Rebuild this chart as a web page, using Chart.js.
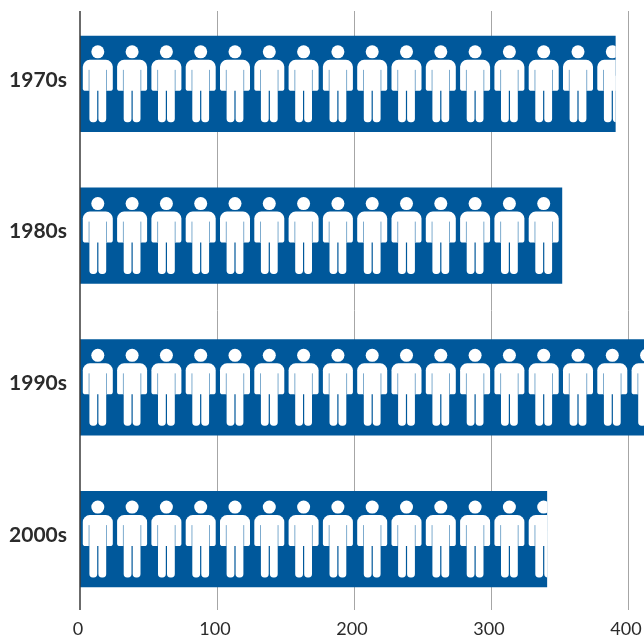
<!DOCTYPE html>
<html>
<head>
<meta charset="utf-8">
<style>
    html, body { margin: 0; padding: 0; background: #fff; }
    #wrap { width: 644px; height: 639px; }
</style>
<script src="https://cdn.jsdelivr.net/npm/chart.js@4"></script>
</head>
<body>
<div id="wrap"><canvas id="peopleChart" width="644" height="639"></canvas></div>
<script>
const decades = ['1970s', '1980s', '1990s', '2000s'];
const people = [391, 352, 420, 341];
const xTicks = [0, 100, 200, 300, 400];

const barColor = '#00589b';
const slitColor = '#6fa2c9';
const gridColor = '#a6a6a6';
const axisColor = '#3a3a3a';
const textColor = '#2b2b2b';

// one person, drawn relative to the top of the bar and the middle of the figure
function drawPerson(ctx, cx) {
    ctx.fillStyle = '#fff';
    ctx.beginPath();
    ctx.arc(cx, 16, 6.5, 0, Math.PI * 2);
    ctx.fill();

    ctx.beginPath();
    ctx.roundRect(cx - 15, 24, 30, 31, [7, 7, 2.7, 2.7]);
    ctx.fill();
    ctx.beginPath();
    ctx.roundRect(cx - 8.4, 40, 7.8, 46.4, [0, 0, 3.4, 3.4]);
    ctx.roundRect(cx + 0.6, 40, 7.8, 46.4, [0, 0, 3.4, 3.4]);
    ctx.rect(cx - 8.4, 40, 16.8, 14);
    ctx.fill();

    // pale gaps between arms and torso
    ctx.fillStyle = slitColor;
    ctx.fillRect(cx - 9.2, 34, 0.9, 21);
    ctx.fillRect(cx + 8.3, 34, 0.9, 21);
}

const axisAndGrid = {
    id: 'axisAndGrid',
    beforeDatasetsDraw(chart) {
        const ctx = chart.ctx;
        const x = chart.scales.x;
        ctx.save();
        ctx.strokeStyle = gridColor;
        ctx.lineWidth = 1;
        xTicks.slice(1).forEach(v => {
            const px = Math.round(x.getPixelForValue(v)) + 0.5;
            ctx.beginPath();
            ctx.moveTo(px, 11);
            ctx.lineTo(px, 610);
            ctx.stroke();
        });
        ctx.restore();
    },
    afterDatasetsDraw(chart) {
        const ctx = chart.ctx;
        const x = chart.scales.x;
        const spacing = 34.3;
        ctx.save();
        chart.getDatasetMeta(0).data.forEach(bar => {
            const top = bar.y - bar.height / 2;
            const right = Math.min(bar.x, chart.chartArea.right);
            ctx.save();
            ctx.beginPath();
            ctx.rect(bar.base, top, right - bar.base, bar.height);
            ctx.clip();
            ctx.translate(0, top);
            for (let cx = bar.base + 17.8; cx - 16 < right; cx += spacing) {
                drawPerson(ctx, cx);
            }
            ctx.restore();
        });
        const px = x.getPixelForValue(0);
        ctx.strokeStyle = axisColor;
        ctx.lineWidth = 1.5;
        ctx.beginPath();
        ctx.moveTo(px, 11);
        ctx.lineTo(px, 610);
        ctx.stroke();
        ctx.restore();
    }
};

// no automatic room for overhanging labels, the plot runs to the window edge
function noPadding(axis) {
    axis.paddingTop = 0;
    axis.paddingBottom = 0;
    axis.paddingLeft = 0;
    axis.paddingRight = 0;
}

new Chart(document.getElementById('peopleChart').getContext('2d'), {
    type: 'bar',
    data: {
        labels: decades,
        datasets: [{
            data: people,
            backgroundColor: barColor,
            categoryPercentage: 1,
            barPercentage: 0.633
        }]
    },
    options: {
        indexAxis: 'y',
        responsive: false,
        animation: false,
        layout: { padding: { top: 8, right: 0, left: 0, bottom: 0 } },
        plugins: {
            legend: { display: false },
            tooltip: { enabled: false }
        },
        scales: {
            x: {
                min: 0,
                max: 411.7,
                afterBuildTicks: axis => {
                    axis.ticks = xTicks.map(v => ({ value: v }));
                },
                afterFit: axis => {
                    noPadding(axis);
                    axis.height = 24;
                },
                grid: { display: false, drawTicks: false },
                border: { display: false },
                ticks: {
                    color: textColor,
                    padding: 3,
                    labelOffset: -2,
                    maxRotation: 0,
                    autoSkip: false,
                    font: { family: 'Lato', size: 18 }
                }
            },
            y: {
                afterFit: axis => {
                    noPadding(axis);
                    axis.width = 80;
                },
                grid: { display: false, drawTicks: false },
                border: { display: false },
                ticks: {
                    color: textColor,
                    padding: 13,
                    labelOffset: -4,
                    font: { family: 'Lato', size: 21, weight: 'bold' }
                }
            }
        }
    },
    plugins: [axisAndGrid]
});
</script>
</body>
</html>
